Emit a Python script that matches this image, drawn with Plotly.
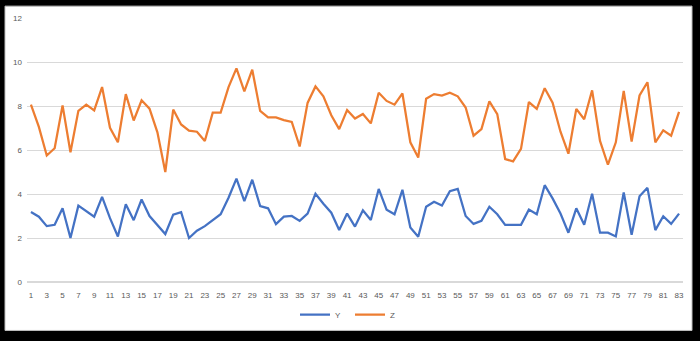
import plotly.graph_objects as go

# Sample index 1..83
idx = list(range(1, 84))

y_vals = [3.18, 2.97, 2.54, 2.60, 3.35, 2.00, 3.47, 3.21, 2.97, 3.87,
          2.90, 2.07, 3.53, 2.81, 3.75, 3.00, 2.58, 2.18, 3.06, 3.17,
          2.00, 2.33, 2.54, 2.82, 3.08, 3.83, 4.70, 3.68, 4.65, 3.45,
          3.35, 2.63, 2.97, 3.00, 2.78, 3.11, 4.01, 3.56, 3.15, 2.36,
          3.11, 2.52, 3.26, 2.82, 4.23, 3.29, 3.08, 4.19, 2.48, 2.06,
          3.42, 3.65, 3.48, 4.13, 4.23, 3.00, 2.64, 2.78, 3.42, 3.08,
          2.60, 2.60, 2.60, 3.29, 3.08, 4.40, 3.80, 3.11, 2.24, 3.35,
          2.60, 4.01, 2.24, 2.24, 2.07, 4.07, 2.15, 3.90, 4.28, 2.36,
          2.99, 2.64, 3.11]

z_vals = [8.06, 7.05, 5.75, 6.08, 8.03, 5.90, 7.78, 8.06, 7.80, 8.86,
          7.01, 6.35, 8.54, 7.34, 8.26, 7.88, 6.80, 5.00, 7.84, 7.16,
          6.88, 6.83, 6.41, 7.70, 7.70, 8.86, 9.71, 8.66, 9.65, 7.78,
          7.48, 7.48, 7.36, 7.28, 6.16, 8.14, 8.89, 8.44, 7.58, 6.95,
          7.82, 7.43, 7.64, 7.21, 8.60, 8.23, 8.06, 8.57, 6.35, 5.66,
          8.33, 8.54, 8.47, 8.60, 8.44, 7.93, 6.65, 6.95, 8.21, 7.63,
          5.59, 5.48, 6.05, 8.18, 7.87, 8.81, 8.15, 6.83, 5.83, 7.87,
          7.40, 8.71, 6.41, 5.33, 6.35, 8.68, 6.38, 8.48, 9.08, 6.35,
          6.89, 6.65, 7.73]

x_tick_vals = list(range(1, 84, 2))
y_tick_vals = [0, 2, 4, 6, 8, 10, 12]

BLUE = "#4472C4"
ORANGE = "#ED7D31"
TEXT = "#595959"
GRID = "#D9D9D9"

fig = go.Figure()
fig.add_trace(go.Scatter(x=idx, y=y_vals, mode="lines", name="Y",
                         line=dict(color=BLUE, width=2.25)))
fig.add_trace(go.Scatter(x=idx, y=z_vals, mode="lines", name="Z",
                         line=dict(color=ORANGE, width=2.25)))

W, H = 700, 341
L, R, T, B = 27, 17, 18, 56
pw, ph = W - L - R, H - T - B


def px_to_paper_x(px):
    return (px - L) / pw


def px_to_paper_y(py):
    return (H - B - py) / ph


# White chart card inside a thick black frame
fig.add_shape(type="rect", xref="paper", yref="paper", layer="below",
              x0=px_to_paper_x(5), x1=px_to_paper_x(692),
              y0=px_to_paper_y(334), y1=px_to_paper_y(6),
              fillcolor="white", line=dict(color="#BFBFBF", width=1))

fig.update_layout(
    width=W, height=H,
    margin=dict(l=L, r=R, t=T, b=B),
    paper_bgcolor="black",
    plot_bgcolor="rgba(0,0,0,0)",
    font=dict(family="Liberation Sans, Arial, sans-serif", size=8, color=TEXT),
    showlegend=True,
    legend=dict(orientation="h", x=px_to_paper_x(350), xanchor="center",
                y=px_to_paper_y(318), yanchor="middle",
                font=dict(size=8, color=TEXT), itemwidth=30,
                entrywidth=10, tracegroupgap=0,
                bgcolor="rgba(0,0,0,0)"),
    xaxis=dict(range=[0.5, 83.5], tickvals=x_tick_vals,
               ticktext=[str(v) for v in x_tick_vals],
               showgrid=False, zeroline=False, showline=False,
               ticks="", tickfont=dict(size=8, color=TEXT), tickangle=0,
               ticklabelstandoff=7, fixedrange=True),
    yaxis=dict(range=[0, 12], tickvals=y_tick_vals,
               showgrid=True, gridcolor=GRID, gridwidth=1,
               zeroline=True, zerolinecolor=GRID, zerolinewidth=1.5,
               showline=False, ticks="", ticklabelstandoff=4,
               tickfont=dict(size=8, color=TEXT), fixedrange=True),
)

fig.write_html("out.html")
